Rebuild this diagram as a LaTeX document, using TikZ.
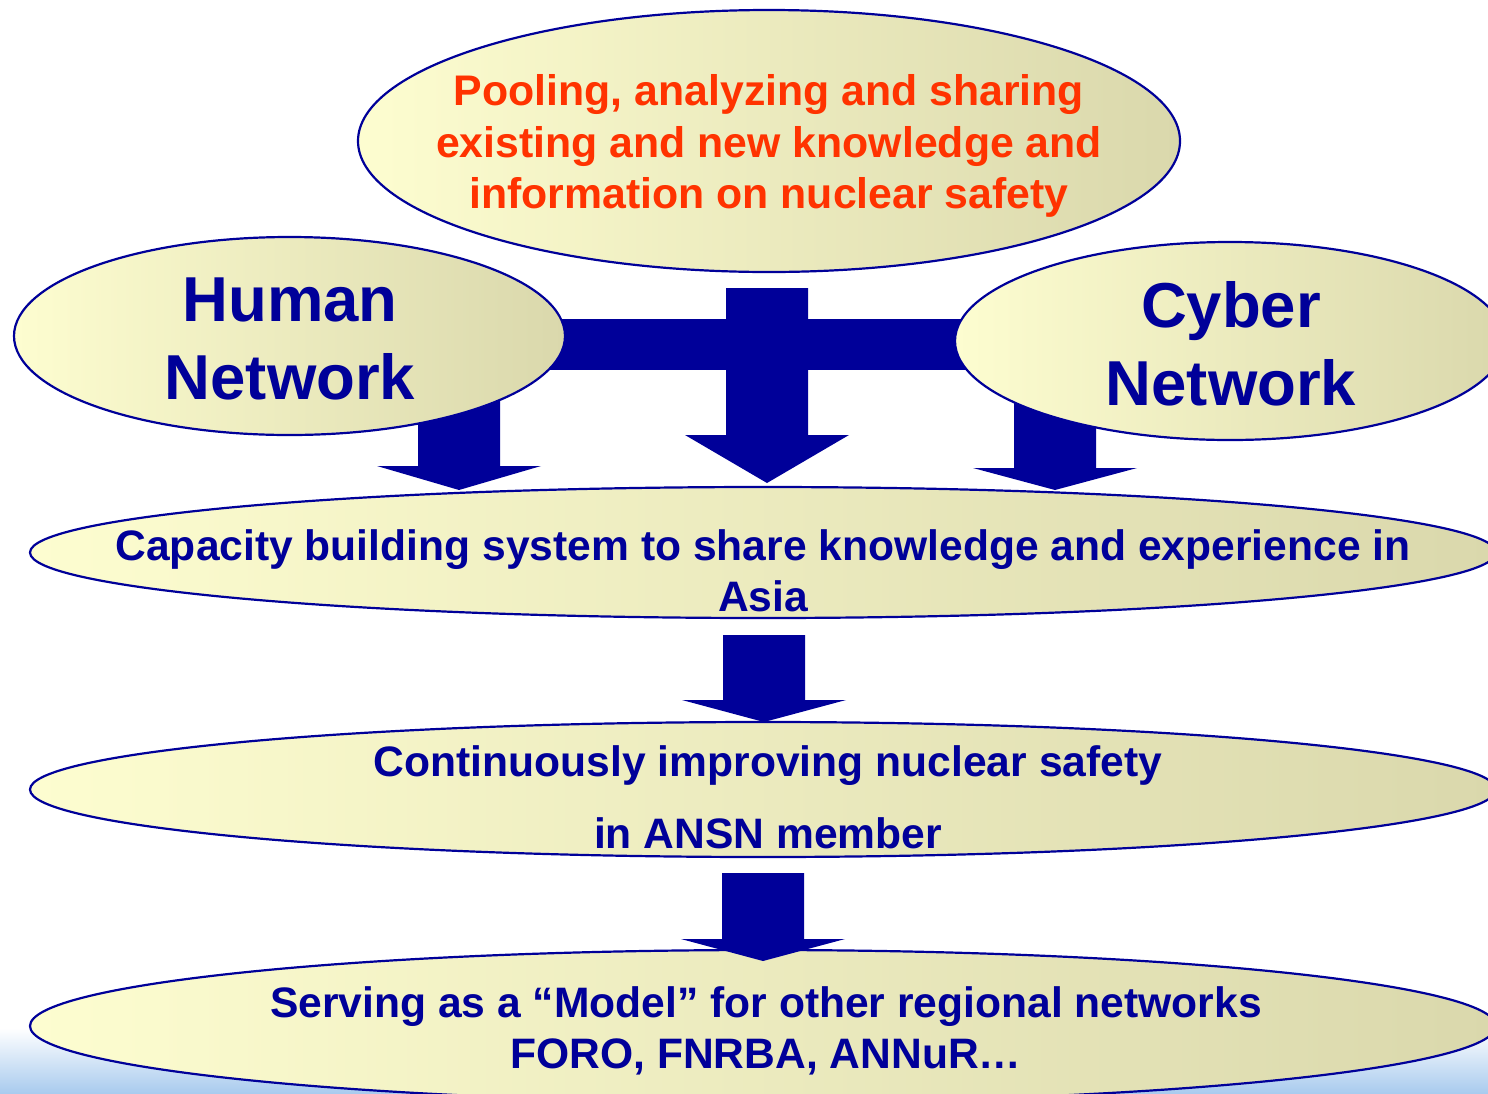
\documentclass[tikz,border=0pt]{standalone}
\usepackage{fontspec}
\setmainfont{Liberation Sans}
\usetikzlibrary{shapes.geometric}
\definecolor{navy}{HTML}{000099}
\definecolor{flame}{HTML}{FF3300}
\definecolor{paleyel}{HTML}{FDFDD0}
\definecolor{khaki}{HTML}{DAD8AC}
\definecolor{skyband}{HTML}{A9CBEE}

% downward block arrow: centre x, shaft top, head base, tip
\newcommand\blockdown[4]{%
  \fill[navy] (#1-41,#2) -- (#1+41,#2) -- (#1+41,#3) -- (#1+82,#3)
    -- (#1,#4) -- (#1-82,#3) -- (#1-41,#3) -- cycle;}

\begin{document}
\begin{tikzpicture}[x=1pt,y=-1pt,
  bubble/.style={ellipse, draw=navy, line width=2.2pt,
    left color=paleyel, right color=khaki, inner sep=0pt},
  txt/.style={inner sep=0pt, align=center, text=navy, font=\bfseries},
]
\useasboundingbox (0,0) rectangle (1488,1093);
\clip (0,0) rectangle (1488,1093);

% pale blue band at the foot
\shade[top color=white, bottom color=skyband] (0,1028) rectangle (1488,1093);

% connecting bar and arrows (behind the ellipses)
\fill[navy] (520,319) rectangle (990,370);
\blockdown{767}{288}{435}{483}
\blockdown{459}{390}{466}{490}
\blockdown{1055}{390}{468}{490}
\blockdown{764}{635}{700}{722}

% ellipses
\node[bubble, minimum width=822, minimum height=262] (pool) at (769,141) {};
\node[bubble, minimum width=551, minimum height=198] (human) at (289.5,336) {};
\node[bubble, minimum width=550, minimum height=198] (cyber) at (1230,341) {};
\node[bubble, minimum width=1466, minimum height=131] (cap) at (763,552.5) {};
\node[bubble, minimum width=1466, minimum height=135] (cont) at (763,789.5) {};
\node[bubble, minimum width=1466, minimum height=152] (serv) at (763,1026) {};

% last arrow overlaps the lowest ellipse
\blockdown{763}{873}{939}{961}

% texts
\node[txt, text=flame, font=\bfseries\fontsize{42.8}{51.5}\selectfont] (poolT) at (769,146)
  {Pooling, analyzing and sharing\\existing and new knowledge and\\information on nuclear safety};
\node[txt, font=\bfseries\fontsize{63.5}{78}\selectfont] (humanT) at (290,339) {Human\\Network};
\node[txt, font=\bfseries\fontsize{63.5}{78}\selectfont] (cyberT) at (1231,344) {Cyber\\Network};
\node[txt, font=\bfseries\fontsize{42.6}{51}\selectfont] (capT) at (763,571)
  {Capacity building system to share knowledge and experience in\\Asia};
\node[txt, font=\bfseries\fontsize{42.6}{51}\selectfont] (contT) at (768,797)
  {Continuously improving nuclear safety\\[21pt]in ANSN member};
\node[txt, font=\bfseries\fontsize{42.6}{51}\selectfont] (servT) at (766,1031)
  {Serving as a “Model” for other regional networks\\FORO, FNRBA, ANNuR…};
\end{tikzpicture}
\end{document}
